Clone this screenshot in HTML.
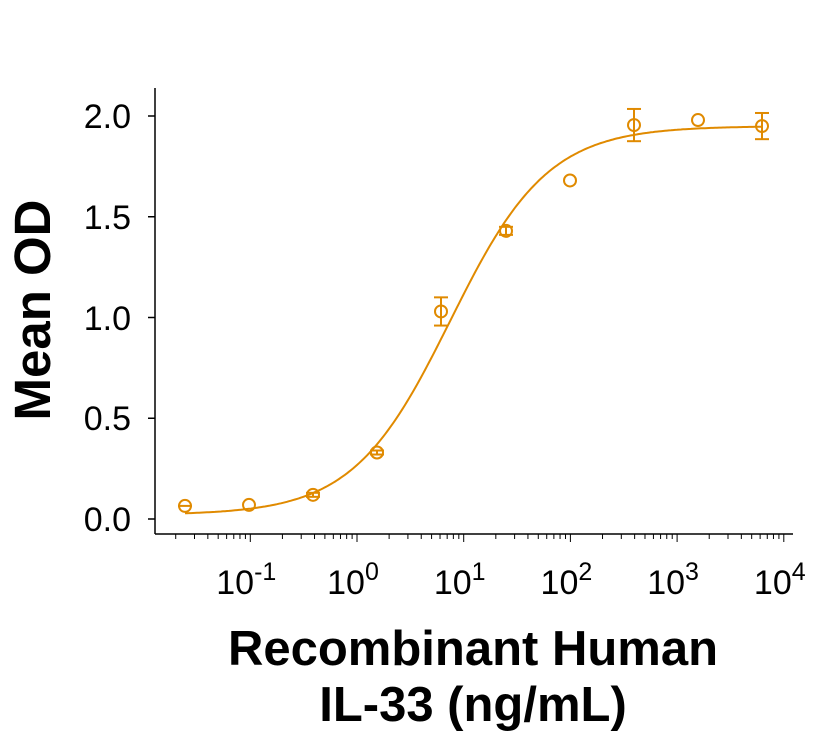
<!DOCTYPE html>
<html><head><style>body{margin:0;background:#fff}svg{display:block}</style></head><body>
<svg id="s" width="831" height="738" xmlns="http://www.w3.org/2000/svg" font-family="Liberation Sans, sans-serif">
<line x1="155" y1="88" x2="155" y2="534" stroke="#000" stroke-width="1.5"/>
<line x1="155" y1="534" x2="793" y2="534" stroke="#000" stroke-width="1.5"/>
<g id="yt" stroke="#000" stroke-width="1.5"></g>
<g font-size="34" text-anchor="end" fill="#000">
<text x="131" y="531">0.0</text><text x="131" y="430">0.5</text><text x="131" y="330">1.0</text><text x="131" y="229">1.5</text><text x="131" y="128">2.0</text>
</g>
<g id="xt" stroke="#000" stroke-width="1"></g>
<g font-size="34" text-anchor="middle" fill="#000" id="xl"></g>
<text transform="translate(50,310) rotate(-90)" text-anchor="middle" font-size="51" font-weight="bold">Mean OD</text>
<text x="473" y="665" text-anchor="middle" font-size="49" font-weight="bold">Recombinant Human</text>
<text x="473" y="721" text-anchor="middle" font-size="49" font-weight="bold">IL-33 (ng/mL)</text>
<g id="d" stroke="#E08A00" stroke-width="2" fill="none"></g>
</svg>
<script>
var ns="http://www.w3.org/2000/svg";
function el(p,t,a,txt){var e=document.createElementNS(ns,t);for(var k in a)e.setAttribute(k,a[k]);if(txt)e.textContent=txt;document.getElementById(p).appendChild(e);return e;}
function Y(v){return 519-201.5*v;}
function X(c){return 357+106.7*Math.log10(c);}
for(var i=0;i<5;i++){var y=Y(i*0.5);el("yt","line",{x1:148,x2:155,y1:y,y2:y});}
for(var d=-2;d<4;d++){for(var m=1;m<10;m++){var x=X(m*Math.pow(10,d));if(x<156||x>793)continue;el("xt","line",{x1:x,x2:x,y1:534,y2:m==1?542:539});}}
el("xt","line",{x1:X(1e4),x2:X(1e4),y1:534,y2:542});
var labs=["-1","0","1","2","3","4"];
for(var k=0;k<6;k++){var x=X(Math.pow(10,k-1));var t=el("xl","text",{x:x-4,y:594});t.textContent="10";var s=document.createElementNS(ns,"tspan");s.setAttribute("dy","-14");s.setAttribute("font-size","25");s.textContent=labs[k];t.appendChild(s);}
var B=0.02,T=1.95,E=7.5,H=0.95;
function f(c){return B+(T-B)/(1+Math.pow(E/c,H));}
var p="";for(var x=185;x<=762;x+=2){var c=Math.pow(10,(x-357)/106.7);p+=(p?"L":"M")+x+","+Y(f(c)).toFixed(1);}
el("d","path",{d:p});
var px=[185,249,313,377,441,506,570,634,698,762],v=[0.065,0.07,0.12,0.33,1.03,1.43,1.68,1.955,1.98,1.95],e=[0.005,0,0.01,0.01,0.07,0.02,0,0.08,0,0.065];
for(var i=0;i<10;i++){var y=Y(v[i]);el("d","circle",{cx:px[i],cy:y,r:6});
if(e[i]==0)continue;
if(e[i]>0.008){var y1=Y(v[i]+e[i]),y2=Y(v[i]-e[i]);el("d","line",{x1:px[i],x2:px[i],y1:y1,y2:y2});el("d","line",{x1:px[i]-7,x2:px[i]+7,y1:y1,y2:y1});el("d","line",{x1:px[i]-7,x2:px[i]+7,y1:y2,y2:y2});}
else el("d","line",{x1:px[i]-7,x2:px[i]+7,y1:y,y2:y});}
</script>
</body></html>
